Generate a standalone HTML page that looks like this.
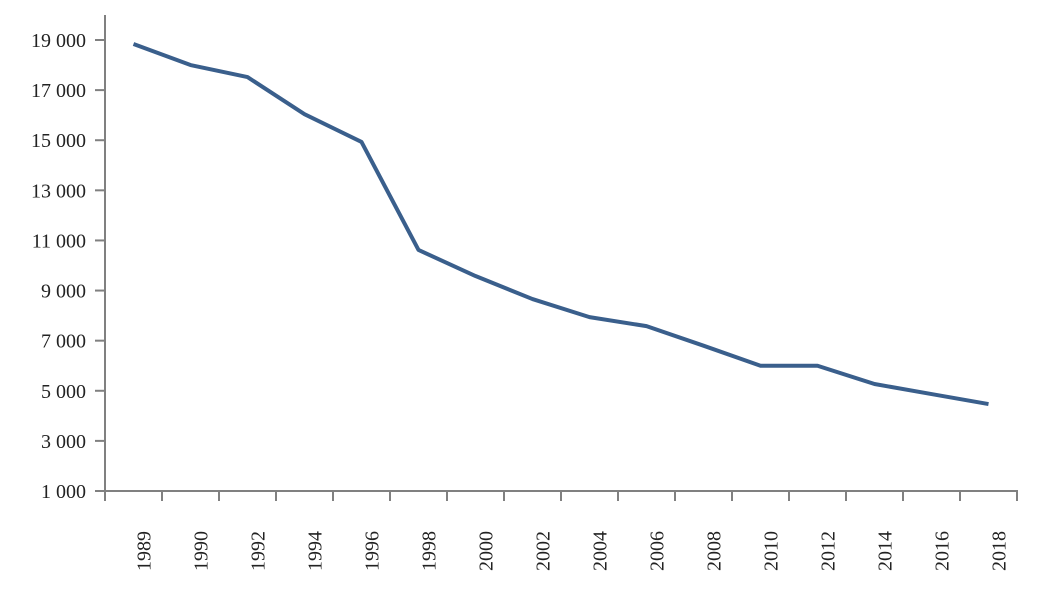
<!DOCTYPE html>
<html><head><meta charset="utf-8"><style>
html,body{margin:0;padding:0;background:#fff;}
svg{display:block;font-family:"Liberation Serif",serif;}
</style></head><body>
<svg id="chart" width="1037" height="591" viewBox="0 0 1037 591">
<g id="axes"></g><g id="series"></g>
</svg>
<script>
const categories=["1989","1990","1992","1994","1996","1998","2000","2002","2004","2006","2008","2010","2012","2014","2016","2018"];
const values=[18840,18000,17520,16040,14930,10620,9580,8660,7940,7580,6800,6000,6000,5270,4870,4470];
const yTicks=[1000,3000,5000,7000,9000,11000,13000,15000,17000,19000];
const yTickLabels=["1 000","3 000","5 000","7 000","9 000","11 000","13 000","15 000","17 000","19 000"];

const NS="http://www.w3.org/2000/svg";
const plotLeft=105,plotRight=1017,plotBottom=491,plotTop=15;
const yMin=1000,yMax=19000,yMinPx=491,yMaxPx=40;
const band=(plotRight-plotLeft)/categories.length;
function xScale(i){return plotLeft+band*(i+0.5);}
function yScale(v){return yMinPx-(v-yMin)/(yMax-yMin)*(yMinPx-yMaxPx);}
function mk(tag,attrs,parent){const e=document.createElementNS(NS,tag);for(const k in attrs)e.setAttribute(k,attrs[k]);parent.appendChild(e);return e;}
const axesG=document.getElementById('axes'),seriesG=document.getElementById('series');

const yl=mk('line',{x1:plotLeft,y1:plotTop,x2:plotLeft,y2:plotBottom+1,stroke:'#808080','stroke-width':2},axesG);


const xl=mk('line',{x1:plotLeft-1,y1:plotBottom,x2:plotRight+1,y2:plotBottom,stroke:'#808080','stroke-width':2},axesG);



yTicks.forEach((v,i)=>{
  const y=yScale(v);
  const t=mk('line',{x1:plotLeft-10,y1:y,x2:plotLeft,y2:y,stroke:'#808080','stroke-width':2},axesG);
  
  
  const tx=mk('text',{x:86,y:y+7,'text-anchor':'end','font-size':20,fill:'#222'},axesG);
  tx.textContent=yTickLabels[i];
  
  
});
for(let i=0;i<=categories.length;i++){
  const x=plotLeft+band*i;
  const t=mk('line',{x1:x,y1:plotBottom,x2:x,y2:plotBottom+10,stroke:'#808080','stroke-width':2},axesG);
  
  
}
categories.forEach((c,i)=>{
  const x=xScale(i)+17;
  const tx=mk('text',{x:x,y:571,'font-size':20,fill:'#222',transform:'rotate(-90 '+x+' 571)'},axesG);
  tx.textContent=c;
  
  
});
const pts=values.map((v,i)=>xScale(i)+','+yScale(v)).join(' ');
const pl=mk('polyline',{points:pts,fill:'none',stroke:'#3a5f8c','stroke-width':4,'stroke-linejoin':'round'},seriesG);


</script>
</body></html>
